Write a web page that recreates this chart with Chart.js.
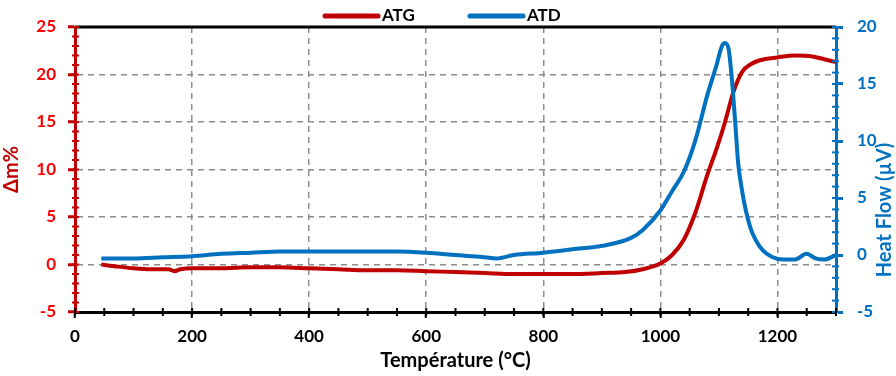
<!DOCTYPE html>
<html lang="fr">
<head>
<meta charset="UTF-8">
<title>ATG / ATD</title>
<style>
  html, body { margin: 0; padding: 0; background: #fff; }
  #wrap { width: 896px; height: 376px; }
</style>
</head>
<body>
<div id="wrap"><canvas id="myChart"></canvas></div>

<script src="https://cdn.jsdelivr.net/npm/chart.js@4"></script>
<script>
// ATG : mass change (%) vs temperature
const atgTemp = [45, 70, 100, 130, 160, 170, 180, 200, 250, 300, 350, 400, 450, 500, 550, 600, 650, 700, 750, 800,
                 850, 900, 940, 970, 1000, 1020, 1040, 1060, 1080, 1095, 1110, 1125, 1140, 1155, 1170, 1200, 1230, 1260, 1280, 1300];
const atgMass = [0, -0.2, -0.4, -0.5, -0.5, -0.7, -0.5, -0.4, -0.4, -0.3, -0.3, -0.4, -0.5, -0.6, -0.6, -0.7, -0.8, -0.9, -1.0, -1.0,
                 -1.0, -0.9, -0.8, -0.5, 0.1, 1.0, 2.6, 5.5, 9.4, 12.0, 14.9, 18.2, 20.3, 21.1, 21.5, 21.8, 22.0, 21.9, 21.6, 21.3];

// ATD : heat flow (µV) vs temperature
const atdTemp = [45, 100, 150, 200, 250, 300, 350, 400, 450, 500, 550, 600, 650, 700, 720, 750, 800, 850, 900, 950,
                 970, 1000, 1020, 1040, 1060, 1080, 1095, 1105, 1110, 1116, 1122, 1128, 1133, 1140, 1146, 1155, 1163, 1175,
                 1190, 1210, 1230, 1250, 1265, 1280, 1300];
const atdFlow = [-0.3, -0.3, -0.2, -0.1, 0.1, 0.2, 0.3, 0.3, 0.3, 0.3, 0.3, 0.2, 0.0, -0.2, -0.3, 0.0, 0.2, 0.5, 0.8, 1.5,
                 2.2, 3.9, 5.6, 7.3, 10.1, 14.0, 16.5, 18.3, 18.6, 18.2, 15.5, 11.5, 8.0, 5.5, 3.9, 2.2, 1.3, 0.4,
                 -0.15, -0.4, -0.4, 0.1, -0.3, -0.4, 0.0];

const seriesLabels = ['ATG', 'ATD'];
const xTitle = 'Température (°C)';
const yTitle = 'Δm%';
const y1Title = 'Heat Flow (µV)';

const RED = '#C00000';
const BLUE = '#0070C0';
const GRID = '#8c8c8c';
const FONT = 'Lato';

const pts = (xs, ys) => xs.map((x, i) => ({ x: x, y: ys[i] }));

// frame top line, minor ticks, right title and legend
const extras = {
  id: 'extras',
  afterDraw(chart) {
    const { ctx, chartArea: a, scales } = chart;
    ctx.save();
    ctx.lineCap = 'butt';
    ctx.setLineDash([]);
    ctx.strokeStyle = '#000';
    ctx.lineWidth = 3;
    ctx.beginPath();
    ctx.moveTo(a.left, a.top);
    ctx.lineTo(a.right, a.top);
    ctx.stroke();

    ctx.lineWidth = 2;
    // left axis minor ticks
    ctx.strokeStyle = RED;
    for (let v = -5; v <= 25; v++) {
      const y = scales.y.getPixelForValue(v);
      ctx.beginPath(); ctx.moveTo(a.left - 3, y); ctx.lineTo(a.left + 4, y); ctx.stroke();
    }
    // right axis minor ticks
    ctx.strokeStyle = BLUE;
    for (let v = -5; v <= 20; v++) {
      const y = scales.y1.getPixelForValue(v);
      ctx.beginPath(); ctx.moveTo(a.right - 4, y); ctx.lineTo(a.right + 3, y); ctx.stroke();
    }
    // bottom axis minor ticks
    ctx.strokeStyle = '#000';
    for (let v = 0; v <= 1300; v += 50) {
      const x = scales.x.getPixelForValue(v);
      ctx.beginPath(); ctx.moveTo(x, a.bottom - 4); ctx.lineTo(x, a.bottom + 4); ctx.stroke();
    }

    // right axis title, read bottom to top like the left one
    ctx.save();
    ctx.translate(885, 210);
    ctx.rotate(-Math.PI / 2);
    ctx.font = 'bold 20px ' + FONT;
    ctx.fillStyle = BLUE;
    ctx.textAlign = 'center';
    ctx.textBaseline = 'middle';
    ctx.fillText(y1Title, 0, 0);
    ctx.restore();

    // legend
    const items = chart.data.datasets;
    const starts = [325, 470];
    ctx.font = 'bold 17px ' + FONT;
    ctx.textBaseline = 'middle';
    ctx.textAlign = 'left';
    ctx.fillStyle = '#000';
    items.forEach((ds, i) => {
      const x0 = starts[i];
      ctx.strokeStyle = ds.borderColor;
      ctx.lineWidth = 5;
      ctx.lineCap = 'round';
      ctx.beginPath(); ctx.moveTo(x0, 16); ctx.lineTo(x0 + 53, 16); ctx.stroke();
      ctx.fillText(ds.label, x0 + 57, 16);
    });
    ctx.restore();
  }
};

const plain = v => String(v);

const config = {
  type: 'line',
  data: {
    datasets: [
      {
        label: seriesLabels[0],
        data: pts(atgTemp, atgMass),
        borderColor: RED,
        backgroundColor: RED,
        borderWidth: 4,
        pointRadius: 0,
        cubicInterpolationMode: 'monotone',
        yAxisID: 'y',
        order: 1
      },
      {
        label: seriesLabels[1],
        data: pts(atdTemp, atdFlow),
        borderColor: BLUE,
        backgroundColor: BLUE,
        borderWidth: 4,
        pointRadius: 0,
        cubicInterpolationMode: 'monotone',
        yAxisID: 'y1',
        order: 0
      }
    ]
  },
  options: {
    responsive: true,
    maintainAspectRatio: false,
    animation: false,
    layout: { padding: { top: 27 } },
    plugins: {
      legend: { display: false },
      tooltip: { enabled: false }
    },
    scales: {
      x: {
        type: 'linear',
        min: 0,
        max: 1300,
        afterFit: s => { s.height = 64; },
        ticks: {
          stepSize: 200,
          includeBounds: false,
          callback: plain,
          color: '#000',
          padding: 8,
          maxRotation: 0,
          font: { family: FONT, size: 17, weight: 'bold' }
        },
        grid: {
          color: c => (c.tick && c.tick.value === 0) ? 'rgba(0,0,0,0)' : GRID,
          lineWidth: 1.5,
          tickColor: '#000',
          tickLength: 6,
          tickWidth: 2,
          tickBorderDash: []
        },
        border: { color: '#000', width: 3, dash: [6, 5] },
        title: {
          display: true,
          text: xTitle,
          color: '#000',
          padding: { top: 0, bottom: 3 },
          font: { family: FONT, size: 20, weight: 'bold' }
        }
      },
      y: {
        position: 'left',
        min: -5,
        max: 25,
        afterFit: s => { s.width = 75; },
        ticks: {
          stepSize: 5,
          callback: plain,
          color: '#FF0000',
          padding: 12,
          font: { family: FONT, size: 17, weight: 'bold' }
        },
        grid: {
          color: c => (c.tick && (c.tick.value === -5 || c.tick.value === 25)) ? 'rgba(0,0,0,0)' : GRID,
          lineWidth: 1.5,
          tickColor: RED,
          tickLength: 7,
          tickWidth: 3,
          tickBorderDash: []
        },
        border: { color: RED, width: 3, dash: [6, 5] },
        title: {
          display: true,
          text: yTitle,
          color: RED,
          padding: { top: 0, bottom: 0 },
          font: { family: FONT, size: 20, weight: 'bold' }
        }
      },
      y1: {
        position: 'right',
        min: -5,
        max: 20,
        afterFit: s => { s.width = 60; },
        ticks: {
          stepSize: 5,
          callback: plain,
          color: BLUE,
          padding: 14,
          font: { family: FONT, size: 17, weight: 'bold' }
        },
        grid: {
          drawOnChartArea: false,
          tickColor: BLUE,
          tickLength: 7,
          tickWidth: 3
        },
        border: { color: BLUE, width: 3 },
        title: { display: false }
      }
    }
  },
  plugins: [extras]
};

const myChart = new Chart(document.getElementById('myChart'), config);
</script>
</body>
</html>
